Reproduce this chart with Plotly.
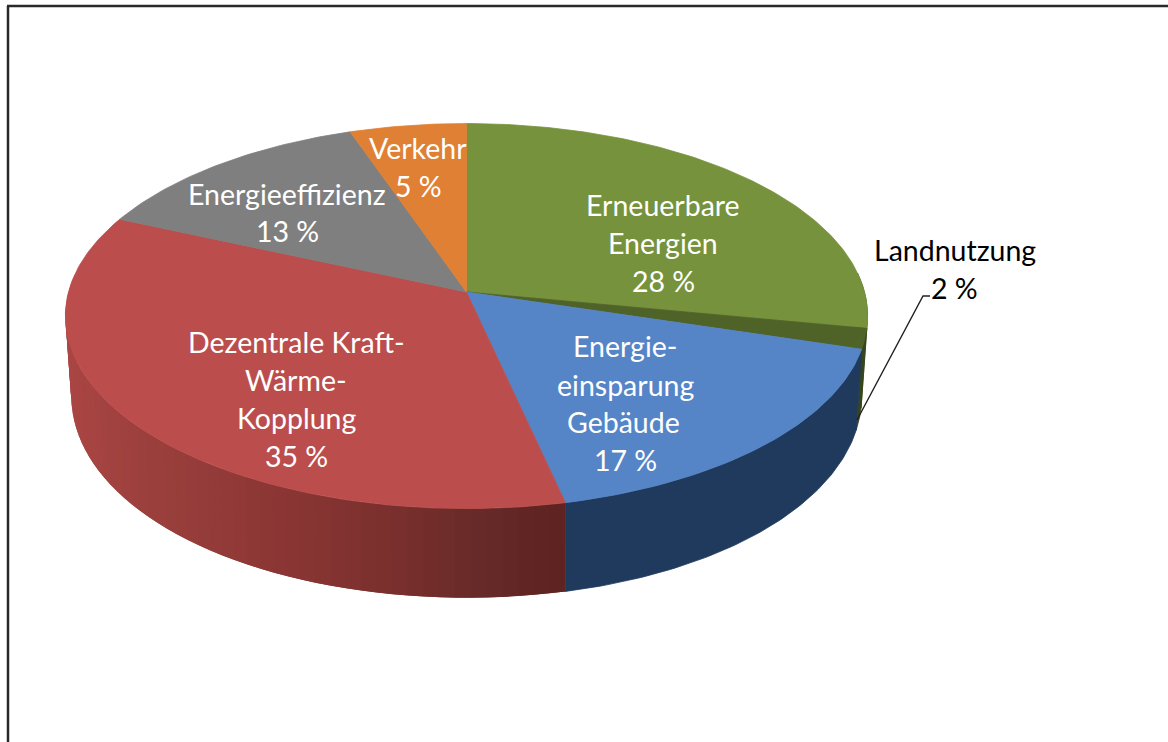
import numpy as np
import plotly.graph_objects as go

# Data (slice shares; printed labels are rounded)
categories = ["Erneuerbare Energien", "Landnutzung", "Energieeinsparung Gebäude",
              "Dezentrale Kraft-Wärme-Kopplung", "Energieeffizienz", "Verkehr"]
values = [28, 1.7, 16.8, 35.1, 13.1, 5.3]
top_colors = ["#76923c", "#4f6228", "#5585c6", "#bb4e4c", "#7f7f7f", "#df8034"]
wall_colors = ["#3f5220", "#36451c", "#1f3a5c", None, "#555555", "#a85a1c"]
label_lines = [
    ("Erneuerbare", 663, 205, "white"), ("Energien", 663, 243, "white"), ("28 %", 663, 281, "white"),
    ("Energie-", 625, 346, "white"), ("einsparung", 625, 385, "white"), ("Gebäude", 623, 422, "white"), ("17 %", 625, 460, "white"),
    ("Dezentrale Kraft-", 296, 342, "white"), ("Wärme-", 296, 380, "white"), ("Kopplung", 296, 418, "white"), ("35 %", 296, 456, "white"),
    ("Energieeffizienz", 287, 194, "white"), ("13 %", 287, 231, "white"),
    ("Verkehr", 418, 148, "white"), ("5 %", 418, 186, "white"),
    ("Landnutzung", 955, 250, "black"), ("2 %", 954, 288, "black"),
]
red_stops_x = [70, 150, 300, 400, 500, 567]
red_stops_rgb = [(170, 70, 68), (156, 64, 61), (138, 54, 52), (122, 48, 46), (102, 42, 40), (94, 35, 32)]

# Projection of the tilted disc onto the page
HX, HY, A, B, K, DEPTH, SHRINK = 466.5, 292, 398, 189.5, 0.125, 78, 0.015


def top(theta):
    X, Y = np.sin(theta), np.cos(theta)
    w = 1 + K * Y
    return HX + A * X / w, HY - B * Y / w


def bottom(theta):
    x, y = top(theta)
    w = 1 + K * np.cos(theta)
    return HX + (x - HX) * (1 - SHRINK * np.sin(theta) ** 2), y + DEPTH / w


def poly(x, y, color, name, width=0.8):
    return go.Scatter(x=x, y=y, mode="lines", fill="toself", fillcolor=color,
                      line=dict(color=color, width=width), name=name, hoverinfo="name", showlegend=False)


fig = go.Figure()
edges = np.cumsum([0] + values) / sum(values) * 2 * np.pi

# Walls: only the front half of the disc shows them
for i, cat in enumerate(categories):
    a0, a1 = max(edges[i], np.pi / 2 - 0.1), min(edges[i + 1], 3 * np.pi / 2 + 0.1)
    if a1 <= a0:
        continue
    if wall_colors[i] is not None:
        t = np.linspace(a0, a1, 80)
        xt, yt = top(t)
        xb, yb = bottom(t[::-1])
        fig.add_trace(poly(np.r_[xt, xb, xt[0]], np.r_[yt, yb, yt[0]], wall_colors[i], cat))
    else:
        # Gradient wall: each band runs to the end of the next one, so no seams show
        steps = np.linspace(a0, a1, int((a1 - a0) / 0.035) + 1)
        for k, (s0, s1) in enumerate(zip(steps[:-1], steps[1:])):
            end = steps[min(k + 2, len(steps) - 1)]
            # drawn from the far (left) end towards the front so that bands overlap cleanly
            t = np.linspace(a1 - (end - a0), a1 - (s0 - a0), 4)
            xt, yt = top(t)
            xb, yb = bottom(t[::-1])
            xm = xt.mean()
            rgb = [np.interp(xm, red_stops_x, [c[j] for c in red_stops_rgb]) for j in range(3)]
            col = "rgb(%d,%d,%d)" % tuple(rgb)
            fig.add_trace(poly(np.r_[xt, xb, xt[0]], np.r_[yt, yb, yt[0]], col, cat, width=0))

# Top faces
for i, cat in enumerate(categories):
    t = np.linspace(edges[i], edges[i + 1], max(8, int(values[i] * 4)))
    xt, yt = top(t)
    fig.add_trace(poly(np.r_[HX, xt, HX], np.r_[HY, yt, HY], top_colors[i], cat))

# Leader line for the small slice
fig.add_trace(go.Scatter(x=[857, 923, 930], y=[420, 296, 296], mode="lines",
                         line=dict(color="#222222", width=1.4), hoverinfo="skip", showlegend=False))

annotations = [dict(x=x, y=y, text=s, showarrow=False, xanchor="center", yanchor="middle",
                    font=dict(family="Lato", size=28.5, color=c)) for s, x, y, c in label_lines]

frame = [
    dict(type="line", x0=7, x1=1168, y0=6, y1=6, line=dict(color="#2a2a2a", width=2.5)),
    dict(type="line", x0=8, x1=8, y0=6, y1=742, line=dict(color="#2a2a2a", width=2.5)),
]

fig.update_layout(
    width=1168, height=742, margin=dict(l=0, r=0, t=0, b=0),
    paper_bgcolor="white", plot_bgcolor="white", showlegend=False,
    xaxis=dict(range=[0, 1168], visible=False, fixedrange=True),
    yaxis=dict(range=[742, 0], visible=False, fixedrange=True),
    annotations=annotations, shapes=frame,
)
fig.write_html("out.html", config=dict(displayModeBar=False),
               post_script="document.body.style.margin='0';document.body.style.overflow='hidden';")
